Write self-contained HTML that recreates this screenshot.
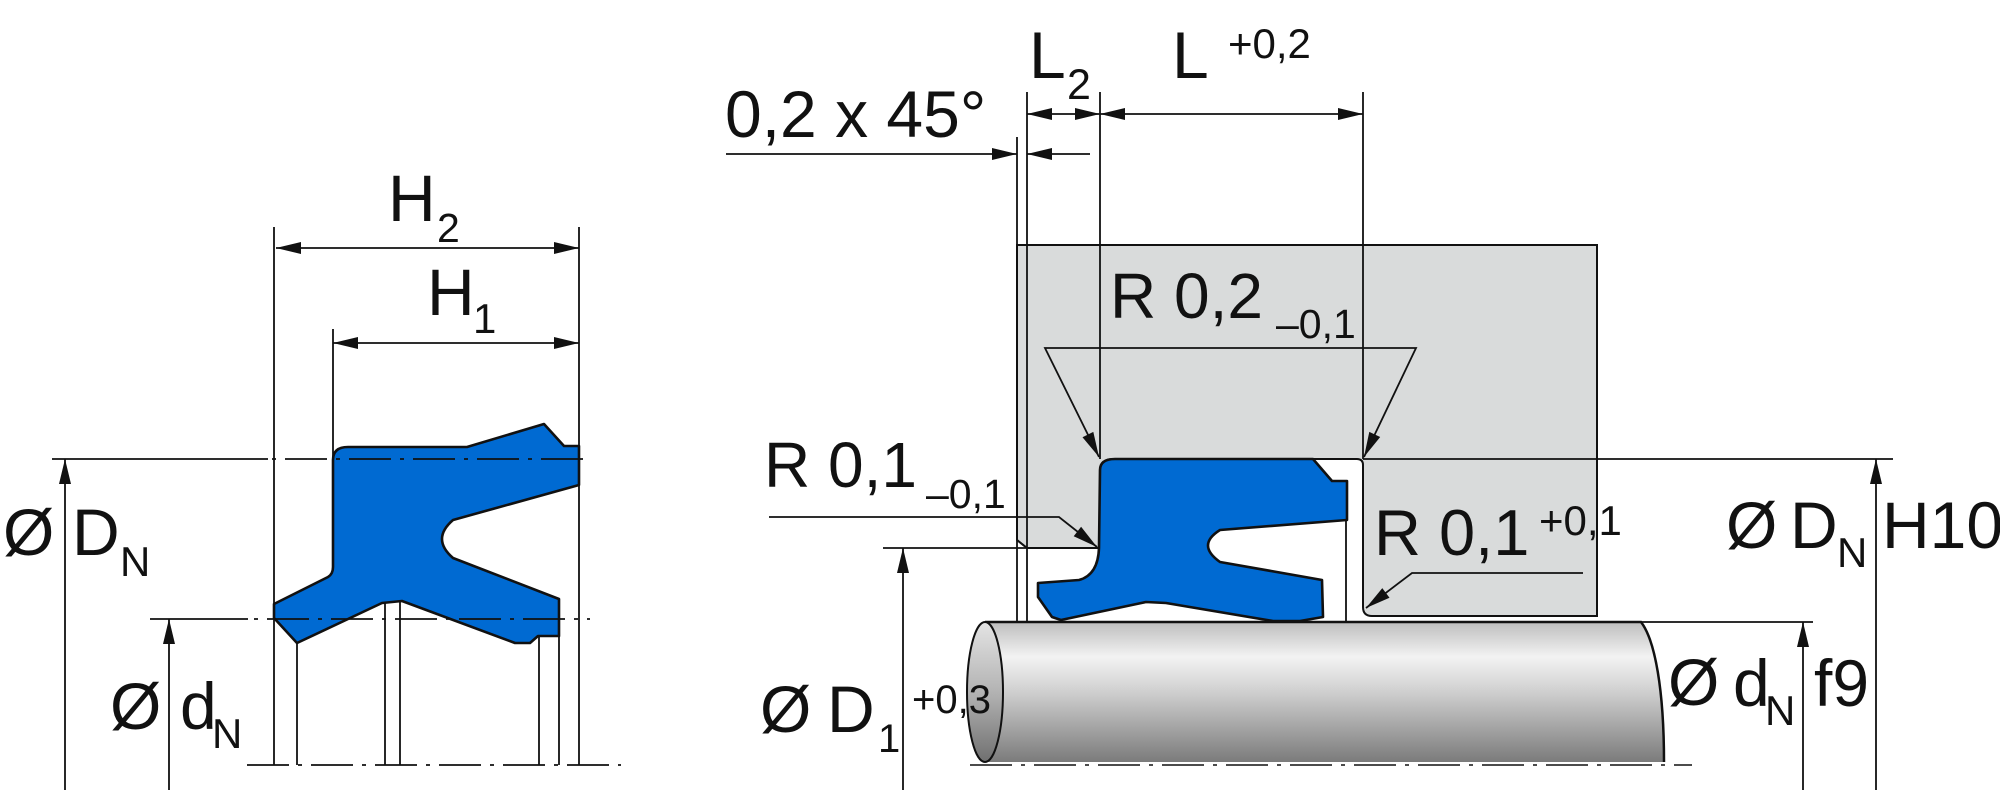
<!DOCTYPE html>
<html>
<head>
<meta charset="utf-8">
<style>
html,body{margin:0;padding:0;background:#fff;}
svg{display:block}
</style>
</head>
<body>
<svg width="2000" height="796" viewBox="0 0 2000 796" xmlns="http://www.w3.org/2000/svg" font-family="'Liberation Sans', Arial, sans-serif">
<defs>
  <linearGradient id="rodG" x1="0" y1="0" x2="0" y2="1">
    <stop offset="0" stop-color="#bdbdbd"/>
    <stop offset="0.25" stop-color="#f3f3f3"/>
    <stop offset="0.5" stop-color="#cfcfcf"/>
    <stop offset="1" stop-color="#7b7b7b"/>
  </linearGradient>
  <linearGradient id="endG" x1="0" y1="0" x2="0" y2="1">
    <stop offset="0" stop-color="#e4e4e4"/>
    <stop offset="0.5" stop-color="#b3b3b3"/>
    <stop offset="1" stop-color="#707070"/>
  </linearGradient>
</defs>

<!-- ================= LEFT DRAWING ================= -->
<g stroke="#111" stroke-width="1.8" fill="none">
  <line x1="274" y1="227" x2="274" y2="765"/>
  <line x1="579" y1="227" x2="579" y2="765"/>
  <line x1="333" y1="329" x2="333" y2="460"/>
  <line x1="297" y1="643" x2="297" y2="765"/>
  <line x1="385" y1="603" x2="385" y2="765"/>
  <line x1="400" y1="601" x2="400" y2="765"/>
  <line x1="539" y1="636" x2="539" y2="765"/>
  <line x1="559" y1="636" x2="559" y2="765"/>
  <line x1="276" y1="248" x2="579" y2="248"/>
  <line x1="333" y1="343" x2="579" y2="343"/>
  <line x1="52" y1="459" x2="268" y2="459"/>
  <line x1="150" y1="619" x2="248" y2="619"/>
  <line x1="65" y1="459" x2="65" y2="790"/>
  <line x1="169" y1="619" x2="169" y2="790"/>
</g>

<!-- left seal -->
<path d="M333,460 Q333,447 348,447 L467,447 L544,424 L564,446 L579,446 L579,485 L453,520 Q431,539 453,558 L559,599 L559,636 L538,636 L530,643 L515,643 L402,601 L382,603 L297,643 L274,618 L274,604 L328,577 Q333,574 333,567 Z" fill="#006ad2" stroke="#111" stroke-width="2.6" stroke-linejoin="round"/>

<!-- left centerlines -->
<g stroke="#111" stroke-width="1.8" fill="none">
  <line x1="272" y1="459" x2="589" y2="459" stroke-dasharray="4 9 42 9"/>
  <line x1="254" y1="619" x2="590" y2="619" stroke-dasharray="4 9 42 9"/>
  <line x1="247" y1="765" x2="621" y2="765" stroke-dasharray="42 9 4 9"/>
</g>

<!-- left arrowheads -->
<g fill="#111">
  <polygon points="276,248 301,242 301,254"/>
  <polygon points="579,248 554,242 554,254"/>
  <polygon points="333,343 358,337 358,349"/>
  <polygon points="579,343 554,337 554,349"/>
  <polygon points="65,459 59,484 71,484"/>
  <polygon points="169,619 163,644 175,644"/>
</g>

<!-- left text -->
<g fill="#111" font-size="66">
  <text x="3" y="555">Ø</text>
  <text x="72" y="555">D</text>
  <text x="120" y="576" font-size="42">N</text>
  <text x="110" y="729">Ø</text>
  <text x="180" y="729">d</text>
  <text x="212" y="748" font-size="42">N</text>
  <text x="388" y="221">H</text>
  <text x="437" y="242" font-size="41">2</text>
  <text x="427" y="315">H</text>
  <text x="473" y="333" font-size="42">1</text>
</g>

<!-- ================= RIGHT DRAWING ================= -->
<!-- housing -->
<path d="M1017,245 H1597 V616 H1372 Q1363,616 1363,607 V465 Q1363,459 1357,459 H1113 Q1100,459 1100,472 V548 H1027 L1017,540 Z" fill="#d9dbdb" stroke="#111" stroke-width="2"/>

<!-- rod -->
<path d="M985,622 H1641 C1655,640 1664,690 1664,762 H985 Z" fill="url(#rodG)"/>
<path d="M985,622 H1641 C1655,640 1664,690 1664,762" fill="none" stroke="#111" stroke-width="2.5"/>
<ellipse cx="985" cy="692" rx="18" ry="70" fill="url(#endG)" stroke="#111" stroke-width="2"/>

<g stroke="#111" stroke-width="1.8" fill="none">
  <line x1="1017" y1="137" x2="1017" y2="621"/>
  <line x1="1027" y1="92" x2="1027" y2="621"/>
  <line x1="1100" y1="92" x2="1100" y2="459"/>
  <line x1="1363" y1="92" x2="1363" y2="459"/>
  <line x1="1346" y1="481" x2="1346" y2="621"/>
  <line x1="1027" y1="114" x2="1363" y2="114"/>
  <line x1="726" y1="154" x2="1017" y2="154"/>
  <line x1="1027" y1="154" x2="1090" y2="154"/>
  <line x1="1017" y1="540" x2="1027" y2="548"/>
  <line x1="883" y1="548" x2="1027" y2="548"/>
  <line x1="903" y1="548" x2="903" y2="790"/>
  <polyline points="1099,457 1045,348 1416,348 1364,457"/>
  <polyline points="769,517 1059,517 1097,547"/>
  <polyline points="1583,573 1412,573 1366,608"/>
  <line x1="1363" y1="459" x2="1893" y2="459"/>
  <line x1="1876" y1="459" x2="1876" y2="790"/>
  <line x1="1641" y1="622" x2="1813" y2="622"/>
  <line x1="1803" y1="622" x2="1803" y2="790"/>
  <line x1="970" y1="765" x2="1692" y2="765" stroke-dasharray="42 9 4 9" stroke="#333"/>
</g>

<!-- right seal -->
<path d="M1100,470 Q1100,459 1115,459 L1313,459 L1332,481 L1347,481 L1347,520 L1220,530 Q1196,545 1220,562 L1322,580 L1323,617 L1300,621 L1273,621 L1166,603 L1146,602 L1061,620 L1052,617 L1038,597 L1038,583 L1079,580 Q1098,575 1099,548 Z" fill="#006ad2" stroke="#111" stroke-width="2.6" stroke-linejoin="round"/>

<!-- right arrowheads -->
<g fill="#111">
  <polygon points="1017,154 992,148 992,160"/>
  <polygon points="1027,154 1052,148 1052,160"/>
  <polygon points="1027,114 1052,108 1052,120"/>
  <polygon points="1100,114 1075,108 1075,120"/>
  <polygon points="1100,114 1125,108 1125,120"/>
  <polygon points="1363,114 1338,108 1338,120"/>
  <polygon points="1099,457 1082.5,437.3 1093.3,431.9"/>
  <polygon points="1364,457 1369.3,431.9 1380.2,437.0"/>
  <polygon points="1097,547 1073.7,536.2 1081.1,526.8"/>
  <polygon points="1366,608 1382.3,588.1 1389.5,597.7"/>
  <polygon points="903,548 897,573 909,573"/>
  <polygon points="1803,622 1797,647 1809,647"/>
  <polygon points="1876,459 1870,484 1882,484"/>
</g>

<!-- right text -->
<g fill="#111" font-size="66">
  <text x="725" y="137">0,2 x 45°</text>
  <text x="1029" y="78">L</text>
  <text x="1067" y="99" font-size="43">2</text>
  <text x="1172" y="78">L</text>
  <text x="1228" y="58" font-size="42">+0,2</text>
  <text x="1110" y="318" font-size="64">R 0,2</text>
  <text x="1276" y="338" font-size="41">–0,1</text>
  <text x="764" y="487" font-size="64">R 0,1</text>
  <text x="926" y="508" font-size="41">–0,1</text>
  <text x="1374" y="555" font-size="65">R 0,1</text>
  <text x="1539" y="535" font-size="42">+0,1</text>
  <text x="760" y="732">Ø</text>
  <text x="827" y="732">D</text>
  <text x="878" y="752" font-size="40">1</text>
  <text x="912" y="713" font-size="40">+0,3</text>
  <text x="1726" y="548">Ø</text>
  <text x="1790" y="548">D</text>
  <text x="1837" y="567" font-size="42">N</text>
  <text x="1882" y="548">H10</text>
  <text x="1668" y="705">Ø</text>
  <text x="1733" y="706">d</text>
  <text x="1765" y="725" font-size="42">N</text>
  <text x="1814" y="706">f9</text>
</g>
</svg>
</body>
</html>
